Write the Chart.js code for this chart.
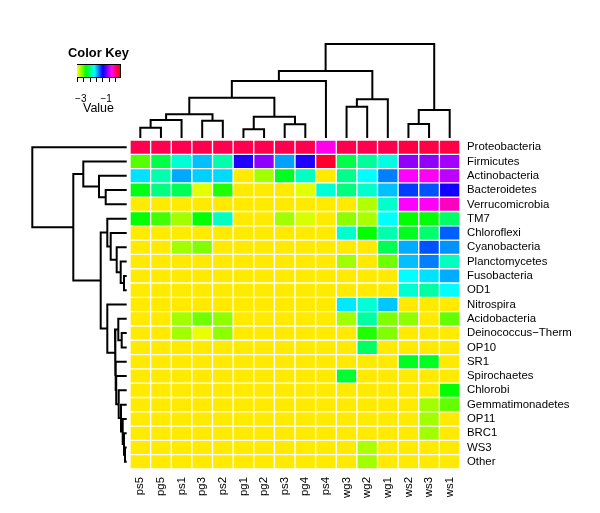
<!DOCTYPE html>
<html>
<head>
<meta charset="utf-8">
<script src="https://cdn.jsdelivr.net/npm/chart.js@4.4.1/dist/chart.umd.min.js"></script>
<style>
  body { margin: 0; background: #fff; }
  #wrap { position: relative; width: 600px; height: 513px; }
  #heat { position: absolute; left: 0; top: 0; }
  #key { position: absolute; left: 60px; top: 40px; }
</style>
</head>
<body>
<div id="wrap">
  <canvas id="heat" width="600" height="513"></canvas>
  <canvas id="key" width="77" height="76"></canvas>
</div>
<script>
// samples (columns, dendrogram order) and phyla (rows, dendrogram order)
const samples = ["ps5", "pg5", "ps1", "pg3", "ps2", "pg1", "pg2", "ps3", "pg4", "ps4", "wg3", "wg2", "wg1", "ws2", "ws3", "ws1"];
const phyla = ["Proteobacteria", "Firmicutes", "Actinobacteria", "Bacteroidetes", "Verrucomicrobia", "TM7",
  "Chloroflexi", "Cyanobacteria", "Planctomycetes", "Fusobacteria", "OD1", "Nitrospira", "Acidobacteria",
  "Deinococcus−Therm", "OP10", "SR1", "Spirochaetes", "Chlorobi", "Gemmatimonadetes", "OP11", "BRC1", "WS3", "Other"];

// log10 relative abundance, one array per phylum
const proteobacteria   = [-0.11, -0.11, -0.11, -0.11, -0.11, -0.11, -0.11, -0.11, -0.11, -0.52, -0.11, -0.11, -0.11, -0.08, -0.08, -0.08];
const firmicutes       = [-2.80, -2.39, -2.02, -1.74, -2.13, -1.15, -0.86, -1.66, -1.15, -0.02, -2.39, -2.17, -1.98, -0.86, -0.86, -0.81];
const actinobacteria   = [-1.83, -2.12, -1.68, -1.78, -1.81, -3.30, -3.00, -2.49, -2.07, -3.30, -2.21, -1.91, -1.57, -0.57, -0.54, -0.74];
const bacteroidetes    = [-2.52, -2.24, -2.36, -3.17, -2.66, -3.30, -3.30, -3.30, -3.17, -2.02, -2.25, -2.04, -1.74, -1.40, -1.45, -1.19];
const verrucomicrobia  = [-3.30, -3.30, -3.30, -3.30, -3.30, -3.30, -3.30, -3.30, -3.30, -3.30, -3.30, -3.04, -2.04, -0.57, -0.54, -0.40];
const tm7              = [-2.58, -2.74, -3.00, -2.58, -2.07, -3.30, -3.30, -3.00, -3.14, -3.30, -2.95, -3.02, -1.91, -2.58, -2.56, -2.31];
const chloroflexi      = [-3.30, -3.30, -3.30, -3.30, -3.30, -3.30, -3.30, -3.30, -3.30, -3.30, -2.04, -2.58, -2.12, -2.49, -2.29, -1.49];
const cyanobacteria    = [-3.30, -3.30, -3.00, -2.91, -3.30, -3.30, -3.30, -3.30, -3.30, -3.30, -3.30, -3.30, -2.36, -1.69, -1.45, -1.62];
const planctomycetes   = [-3.30, -3.30, -3.30, -3.30, -3.30, -3.30, -3.30, -3.30, -3.30, -3.30, -3.00, -3.30, -2.87, -1.74, -1.57, -2.07];
const fusobacteria     = [-3.30, -3.30, -3.30, -3.30, -3.30, -3.30, -3.30, -3.30, -3.30, -3.30, -3.30, -3.30, -3.30, -1.91, -1.83, -1.69];
const od1              = [-3.30, -3.30, -3.30, -3.30, -3.30, -3.30, -3.30, -3.30, -3.30, -3.30, -3.30, -3.30, -3.30, -2.03, -2.15, -1.91];
const nitrospira       = [-3.30, -3.30, -3.30, -3.30, -3.30, -3.30, -3.30, -3.30, -3.30, -3.30, -1.85, -2.02, -1.76, -3.30, -3.30, -3.30];
const acidobacteria    = [-3.30, -3.30, -3.00, -2.87, -2.95, -3.30, -3.30, -3.30, -3.30, -3.30, -3.00, -2.15, -2.91, -2.95, -3.30, -2.83];
const deinococcus      = [-3.30, -3.30, -3.00, -3.19, -2.95, -3.30, -3.30, -3.30, -3.30, -3.30, -3.30, -2.66, -2.91, -3.30, -3.30, -3.30];
const op10             = [-3.30, -3.30, -3.30, -3.30, -3.30, -3.30, -3.30, -3.30, -3.30, -3.30, -3.30, -2.32, -3.30, -3.30, -3.30, -3.30];
const sr1              = [-3.30, -3.30, -3.30, -3.30, -3.30, -3.30, -3.30, -3.30, -3.30, -3.30, -3.30, -3.30, -3.30, -2.49, -2.49, -3.30];
const spirochaetes     = [-3.30, -3.30, -3.30, -3.30, -3.30, -3.30, -3.30, -3.30, -3.30, -3.30, -2.45, -3.30, -3.30, -3.30, -3.30, -3.30];
const chlorobi         = [-3.30, -3.30, -3.30, -3.30, -3.30, -3.30, -3.30, -3.30, -3.30, -3.30, -3.30, -3.30, -3.30, -3.30, -3.30, -2.58];
const gemmatimonadetes = [-3.30, -3.30, -3.30, -3.30, -3.30, -3.30, -3.30, -3.30, -3.30, -3.30, -3.30, -3.30, -3.30, -3.30, -3.00, -2.83];
const op11             = [-3.30, -3.30, -3.30, -3.30, -3.30, -3.30, -3.30, -3.30, -3.30, -3.30, -3.30, -3.30, -3.30, -3.30, -3.00, -3.30];
const brc1             = [-3.30, -3.30, -3.30, -3.30, -3.30, -3.30, -3.30, -3.30, -3.30, -3.30, -3.30, -3.30, -3.30, -3.30, -3.00, -3.30];
const ws3              = [-3.30, -3.30, -3.30, -3.30, -3.30, -3.30, -3.30, -3.30, -3.30, -3.30, -3.30, -3.02, -3.30, -3.30, -3.30, -3.30];
const other            = [-3.30, -3.30, -3.30, -3.30, -3.30, -3.30, -3.30, -3.30, -3.30, -3.30, -3.30, -3.00, -3.30, -3.30, -3.30, -3.30];

// hclust merges (R style): negative = leaf (1-based, display order), positive = earlier merge; last = height
const colMerges = [
  [-1, -2, 1.03], [1, -3, 1.80], [-4, -5, 1.73], [2, 3, 2.37], [-6, -7, 0.87], [-8, -9, 1.37], [5, 6, 2.13],
  [4, 7, 4.03], [8, -10, 5.70], [-11, -12, 3.13], [10, -13, 3.87], [9, 11, 6.70], [-14, -15, 1.40], [13, -16, 2.80],
  [12, 14, 9.40]
];
const rowMerges = [
  [-4, -5, 2.10], [-3, 1, 2.77], [-2, 2, 4.34], [-10, -11, 0.27], [-9, 4, 0.60], [-8, 5, 1.00], [-7, 6, 1.60],
  [-6, 7, 1.94], [-14, -15, 0.50], [-13, 9, 0.84], [-22, -23, 0.17], [-21, 11, 0.27], [-20, 12, 0.40], [-19, 13, 0.57],
  [-18, 14, 0.80], [-17, 15, 1.05], [-16, 16, 1.10], [10, 17, 1.17], [-12, 18, 1.94], [8, 19, 2.60], [3, 20, 5.34],
  [-1, 21, 9.44]
];

// color key
const valueMin = -3.3;
const valueMax = 0.1;
const keyTicks = [-3, -2.5, -2, -1.5, -1, -0.5];
const keyLabels = ["−3", "", "", "", "−1", ""];

const rows = [proteobacteria, firmicutes, actinobacteria, bacteroidetes, verrucomicrobia, tm7, chloroflexi,
  cyanobacteria, planctomycetes, fusobacteria, od1, nitrospira, acidobacteria, deinococcus, op10, sr1,
  spirochaetes, chlorobi, gemmatimonadetes, op11, brc1, ws3, other];

Chart.defaults.font.family = "'Liberation Sans', Arial, Helvetica, sans-serif";
Chart.defaults.color = "#000";

function heatColor(v) {
  const t = Math.min(1, Math.max(0, (v - valueMin) / (valueMax - valueMin)));
  return `hsl(${55 + 305 * t}, 100%, 50%)`;
}

// layout of the heatmap box (px)
const cellW = 330 / samples.length;
const cellH = 329 / phyla.length;
const dendPx = 10;

function dendroPoints(merges, toPoint) {
  const nodes = [];
  const pts = [];
  const info = (ref) => ref < 0 ? { pos: -ref - 1, h: 0 } : nodes[ref - 1];
  merges.forEach(([a, b, h]) => {
    const l = info(a), r = info(b);
    pts.push(toPoint(l.pos, l.h), toPoint(l.pos, h), toPoint(r.pos, h), toPoint(r.pos, r.h), { x: null, y: null });
    nodes.push({ pos: (l.pos + r.pos) / 2, h: h });
  });
  return pts;
}

const colDendro = dendroPoints(colMerges, (pos, h) => ({ x: pos, y: -0.5 - (2 + h * dendPx) / cellH }));
const rowDendro = dendroPoints(rowMerges, (pos, h) => ({ x: -0.5 - (3.3 + h * dendPx) / cellW, y: pos }));

const heatSets = rows.map((vals, r) => ({
  type: "bar",
  label: phyla[r],
  data: vals.map((v, c) => ({ x: c, y: [r - 0.5, r + 0.5] })),
  backgroundColor: vals.map(heatColor),
  borderColor: "#ffffff",
  borderWidth: 1,
  borderSkipped: false,
  grouped: false,
  barPercentage: 1,
  categoryPercentage: 1,
}));

const lineStyle = {
  type: "line",
  borderColor: "#000",
  borderWidth: 2,
  pointRadius: 0,
  pointHoverRadius: 0,
  spanGaps: false,
  tension: 0,
  clip: false,
  fill: false,
};

new Chart(document.getElementById("heat"), {
  type: "bar",
  data: {
    datasets: [
      ...heatSets,
      { ...lineStyle, label: "cols", data: colDendro },
      { ...lineStyle, label: "rows", data: rowDendro },
    ],
  },
  options: {
    responsive: false,
    animation: false,
    devicePixelRatio: 1,
    layout: { padding: { left: 130, top: 140, right: 0, bottom: 0 } },
    plugins: { legend: { display: false }, tooltip: { enabled: false } },
    scales: {
      x: {
        type: "linear",
        min: -0.5,
        max: samples.length - 0.5,
        offset: false,
        grid: { display: false, drawTicks: false },
        border: { display: false },
        afterBuildTicks: (scale) => { scale.ticks = samples.map((_, i) => ({ value: i })); },
        afterFit: (scale) => { scale.height = 44; },
        ticks: {
          autoSkip: false,
          minRotation: 90,
          maxRotation: 90,
          padding: 8,
          font: { size: 11.4 },
          callback: (v) => samples[v],
        },
      },
      y: {
        type: "linear",
        position: "right",
        reverse: true,
        min: -0.5,
        max: phyla.length - 0.5,
        grid: { display: false, drawTicks: false },
        border: { display: false },
        afterBuildTicks: (scale) => { scale.ticks = phyla.map((_, i) => ({ value: i })); },
        afterFit: (scale) => { scale.width = 140; },
        ticks: {
          autoSkip: false,
          padding: 7,
          font: { size: 11.4 },
          callback: (v) => phyla[v],
        },
      },
    },
  },
});

// color key: bins across the value range
const keyBins = 40;
const keyStep = (valueMax - valueMin) / keyBins;
const keyCenters = Array.from({ length: keyBins }, (_, i) => valueMin + keyStep * (i + 0.5));

const hideAxis = {
  display: true,
  ticks: { display: false },
  grid: { display: false },
  border: { display: true, color: "#000", width: 1 },
};

new Chart(document.getElementById("key"), {
  type: "bar",
  data: {
    datasets: [{
      data: keyCenters.map((v) => ({ x: v, y: [0, 1] })),
      backgroundColor: keyCenters.map(heatColor),
      borderWidth: 0,
      barPercentage: 1,
      categoryPercentage: 1,
    }],
  },
  options: {
    responsive: false,
    animation: false,
    devicePixelRatio: 1,
    layout: { padding: 0 },
    plugins: {
      legend: { display: false },
      tooltip: { enabled: false },
      title: {
        display: true,
        text: "Color Key",
        font: { size: 12.9, weight: "bold" },
        padding: { top: 6, bottom: 3.5 },
      },
    },
    scales: {
      x: {
        type: "linear",
        min: valueMin,
        max: valueMax,
        offset: false,
        grid: { display: true, drawOnChartArea: false, drawTicks: true, tickLength: 5, color: "#000" },
        border: { display: true, color: "#000", width: 1 },
        afterBuildTicks: (scale) => { scale.ticks = keyTicks.map((v) => ({ value: v })); },
        afterFit: (scale) => { scale.height = 39; },
        ticks: {
          autoSkip: false,
          maxRotation: 0,
          padding: 11,
          font: { size: 10 },
          callback: (v) => keyLabels[keyTicks.indexOf(v)],
        },
        title: { display: true, text: "Value", font: { size: 12.5 }, padding: { top: 0, bottom: 0 } },
      },
      xTop: {
        ...hideAxis,
        type: "linear",
        position: "top",
        min: valueMin,
        max: valueMax,
        afterFit: (scale) => { scale.height = 0; },
      },
      y: {
        ...hideAxis,
        type: "linear",
        position: "left",
        min: 0,
        max: 1,
        afterFit: (scale) => { scale.width = 17; },
      },
      yRight: {
        ...hideAxis,
        type: "linear",
        position: "right",
        min: 0,
        max: 1,
        afterFit: (scale) => { scale.width = 17; },
      },
    },
  },
});
</script>
</body>
</html>
